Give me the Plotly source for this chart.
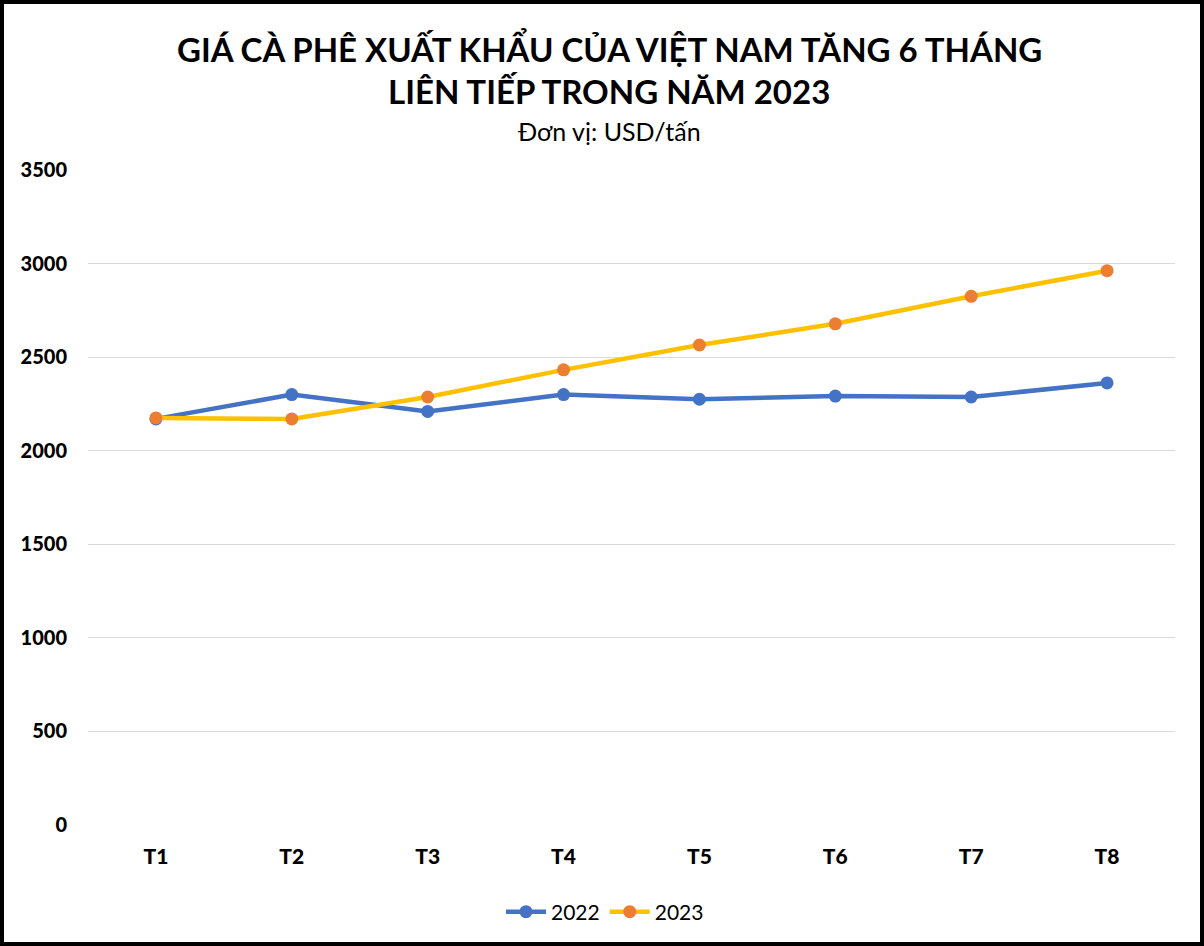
import plotly.graph_objects as go

categories = ["T1", "T2", "T3", "T4", "T5", "T6", "T7", "T8"]
values_2022 = [2170, 2300, 2210, 2300, 2275, 2292, 2287, 2362]
values_2023 = [2175, 2170, 2287, 2432, 2565, 2678, 2825, 2962]
y_ticks = [0, 500, 1000, 1500, 2000, 2500, 3000, 3500]

W, H = 1204, 946
ML, MR, MT, MB = 88, 29, 170, 121
PW, PH = W - ML - MR, H - MT - MB

def px_y(py):
    return (H - MB - py) / PH

def px_x(px):
    return (px - ML) / PW

FONT = "Lato"

fig = go.Figure()
fig.add_trace(go.Scatter(
    x=categories, y=values_2022, name="2022", mode="lines+markers",
    line=dict(color="#4472C4", width=4.5),
    marker=dict(color="#4472C4", size=13),
))
fig.add_trace(go.Scatter(
    x=categories, y=values_2023, name="2023", mode="lines+markers",
    line=dict(color="#FFC000", width=4.5),
    marker=dict(color="#ED7D31", size=13),
))

fig.update_layout(
    width=W, height=H, autosize=False,
    margin=dict(l=ML, r=MR, t=MT, b=MB, pad=0),
    paper_bgcolor="white", plot_bgcolor="white",
    font=dict(family=FONT, color="black"),
    showlegend=True,
    legend=dict(orientation="h", x=px_x(605), xanchor="center", y=px_y(912), yanchor="middle",
                font=dict(size=21, family=FONT), itemwidth=40, tracegroupgap=0),
    xaxis=dict(range=[-0.5, 7.5], showgrid=False, zeroline=False, showline=False,
               tickfont=dict(size=21, family=FONT + " Black"), ticks="", ticklabelstandoff=17),
    yaxis=dict(range=[0, 3500], tickvals=y_ticks, showgrid=True, gridcolor="#D9D9D9", gridwidth=1,
               zeroline=False, showline=False, ticks="",
               tickfont=dict(size=20, family=FONT + " Black"), ticklabelstandoff=20),
    annotations=[
        dict(text="<b>GIÁ CÀ PHÊ XUẤT KHẨU CỦA VIỆT NAM TĂNG 6 THÁNG</b>", x=px_x(609), y=px_y(48),
             xref="paper", yref="paper", showarrow=False, xanchor="center", yanchor="middle",
             font=dict(size=33, family=FONT, color="black")),
        dict(text="<b>LIÊN TIẾP TRONG NĂM 2023</b>", x=px_x(609), y=px_y(91),
             xref="paper", yref="paper", showarrow=False, xanchor="center", yanchor="middle",
             font=dict(size=33, family=FONT, color="black")),
        dict(text="Đơn vị: USD/tấn", x=px_x(609), y=px_y(131),
             xref="paper", yref="paper", showarrow=False, xanchor="center", yanchor="middle",
             font=dict(size=25, family=FONT, color="black")),
    ],
    shapes=[
        dict(type="rect", xref="paper", yref="paper",
             x0=px_x(2), x1=px_x(W - 2), y0=px_y(H - 2), y1=px_y(2),
             line=dict(color="black", width=4), fillcolor="rgba(0,0,0,0)", layer="above"),
    ],
)

fig.write_html("out.html")
